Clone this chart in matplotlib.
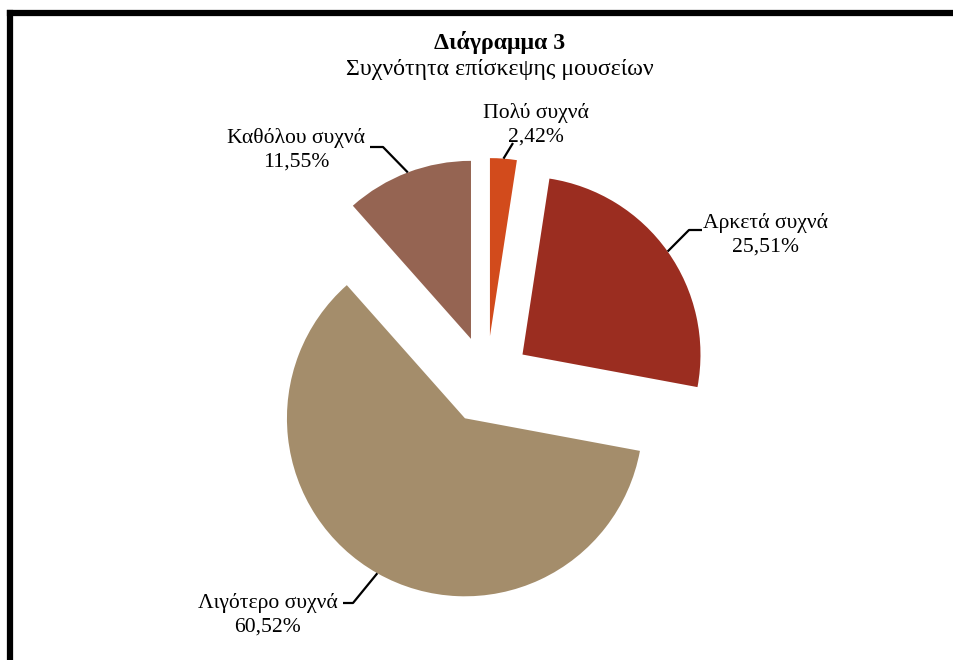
import numpy as np
import matplotlib
matplotlib.use("Agg")
import matplotlib.pyplot as plt

categories = ["Πολύ συχνά", "Αρκετά συχνά", "Λιγότερο συχνά", "Καθόλου συχνά"]
values = [2.42, 25.51, 60.52, 11.55]
value_labels = ["2,42%", "25,51%", "60,52%", "11,55%"]
colors = ["#D24B1C", "#9B2D20", "#A48D6B", "#956452"]

title = "Διάγραμμα 3"
subtitle = "Συχνότητα επίσκεψης μουσείων"

W, H = 954, 660
fig = plt.figure(figsize=(W / 100, H / 100), dpi=100)
ax = fig.add_axes([0, 0, 1, 1])

font = "Liberation Serif"
R = 178
cx, cy = 486.6, H - 380
wedges, _ = ax.pie(values, colors=colors, startangle=90, counterclock=False,
                   explode=[44] * 4, radius=R, center=(cx, cy),
                   wedgeprops=dict(linewidth=0), frame=True)
ax.set_xlim(0, W)
ax.set_ylim(0, H)
ax.set_aspect("equal")
ax.axis("off")

# label text positions (center of label block) and leader bend points (image px)
label_pos = [(536, 124.5), (766, 234.5), (268, 614.5), (296, 149.5)]
bend_pos = [(513, 143), (689, 230), (353, 603), (383, 147)]
end_pos = [None, (702, 230), (343, 603), (370, 147)]

for w, cat, vl, lp, bp, ep in zip(wedges, categories, value_labels, label_pos, bend_pos, end_pos):
    ang = np.deg2rad((w.theta1 + w.theta2) / 2)
    x0 = w.center[0] + w.r * np.cos(ang)
    y0 = w.center[1] + w.r * np.sin(ang)
    xs = [x0, bp[0]]
    ys = [y0, H - bp[1]]
    if ep is not None:
        xs.append(ep[0])
        ys.append(H - ep[1])
    ax.plot(xs, ys, color="black", lw=1.6, solid_capstyle="butt")
    ax.text(lp[0], H - lp[1], cat + "\n" + vl, ha="center", va="center",
            fontsize=15.6, family=font, linespacing=1.3)

fig.text(500 / W, 1 - 42 / H, title, ha="center", va="center",
         fontsize=17.2, fontweight="bold", family=font)
fig.text(500 / W, 1 - 69 / H, subtitle, ha="center", va="center",
         fontsize=17.2, family=font)

# outer frame (top and left edges visible)
ax.plot([10, W + 5], [H - 13, H - 13], color="black", lw=4.5, solid_capstyle="projecting")
ax.plot([10, 10], [H - 13, -5], color="black", lw=4.5, solid_capstyle="projecting")

fig.savefig("out.png", dpi=100)
